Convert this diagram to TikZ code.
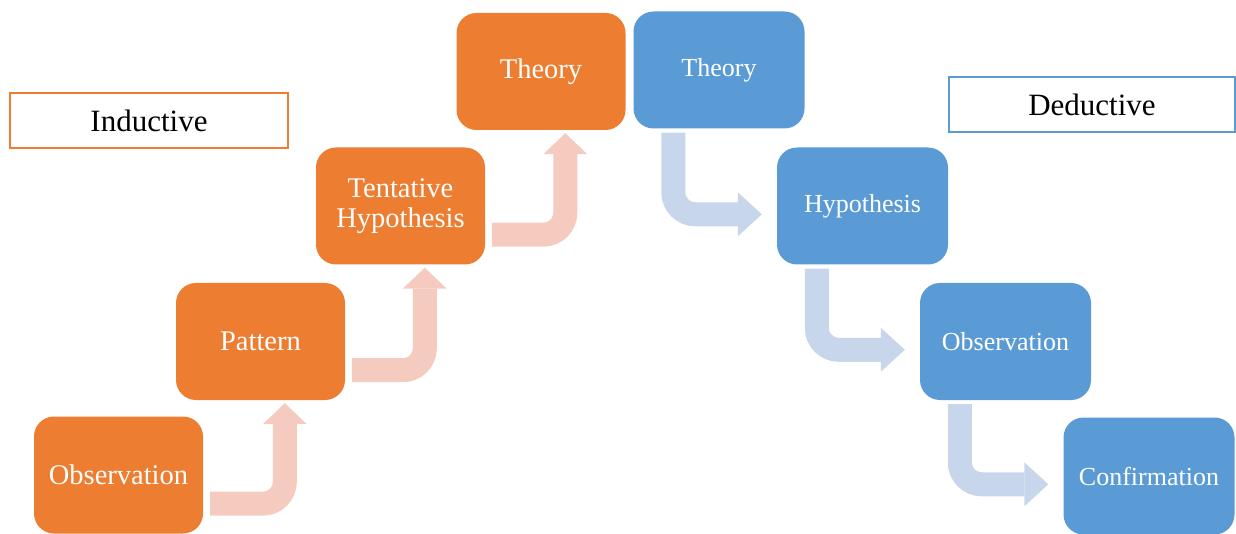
\documentclass[tikz,border=0pt]{standalone}
\usepackage{fontspec}
\setmainfont{Liberation Serif}
\usetikzlibrary{calc}
\definecolor{org}{HTML}{ED7D31}
\definecolor{blu}{HTML}{5B9BD5}
\definecolor{lorg}{HTML}{F6CBBF}
\definecolor{lblu}{HTML}{C7D6EB}
\begin{document}
\begin{tikzpicture}[x=1pt,y=-1pt,
  obox/.style={fill=org, rounded corners=20pt, minimum width=169pt, minimum height=117pt, inner sep=0pt, text=white, align=center, font=\fontsize{28.5}{30}\selectfont},
  bbox/.style={fill=blu, rounded corners=20pt, minimum width=171pt, minimum height=117pt, inner sep=0pt, text=white, align=center, font=\fontsize{26}{28}\selectfont},
  lbl/.style={fill=white, line width=1.5pt, minimum height=55pt, inner sep=0pt, font=\fontsize{31}{33}\selectfont},
  oshaft/.style={draw=lorg, line width=24pt, rounded corners=22pt},
  bshaft/.style={draw=lblu, line width=24pt, rounded corners=22pt}]
\useasboundingbox (0,0) rectangle (1236,534);
% orange boxes
\node[obox] (o1) at (118.5,475) {Observation};
\node[obox] (o2) at (260.5,341.5) {Pattern};
\node[obox] (o3) at (400.5,206) {Tentative\\Hypothesis};
\node[obox] (o4) at (541,71.5) {Theory};
% blue boxes
\node[bbox] (b1) at (719,70) {Theory};
\node[bbox] (b2) at (862.5,206) {Hypothesis};
\node[bbox] (b3) at (1005.5,341.5) {Observation};
\node[bbox] (b4) at (1149,476) {Confirmation};
% labels
\node[lbl, draw=org, minimum width=278pt] (ind) at (149,120.5) {Inductive};
\node[lbl, draw=blu, minimum width=286pt] (ded) at (1092,104.5) {Deductive};
% orange arrows
\foreach \a/\b/\n in {o1/o2/1, o2/o3/2, o3/o4/3}{
  \coordinate (as\n) at ($(\a.south east)+(7,-30)$);
  \coordinate (at\n) at ($(\b.south west)+(109,3)$);
  \coordinate (ab\n) at ($(at\n)+(0,21)$);
  \draw[oshaft] (as\n) -| (ab\n);
  \fill[lorg] ($(ab\n)+(-22,0)$) -- ($(ab\n)+(22,0)$) -- (at\n) -- cycle;
}
% blue arrows
\foreach \a/\b/\n in {b1/b2/1, b2/b3/2, b3/b4/3}{
  \coordinate (cs\n) at ($(\a.south west)+(40,4)$);
  \coordinate (ct\n) at ($(\b.north west)+(-15,67)$);
  \coordinate (cb\n) at ($(ct\n)+(-24,0)$);
  \draw[bshaft] (cs\n) |- (cb\n);
  \fill[lblu] ($(cb\n)+(0,-22)$) -- ($(cb\n)+(0,22)$) -- (ct\n) -- cycle;
}
\end{tikzpicture}
\end{document}
